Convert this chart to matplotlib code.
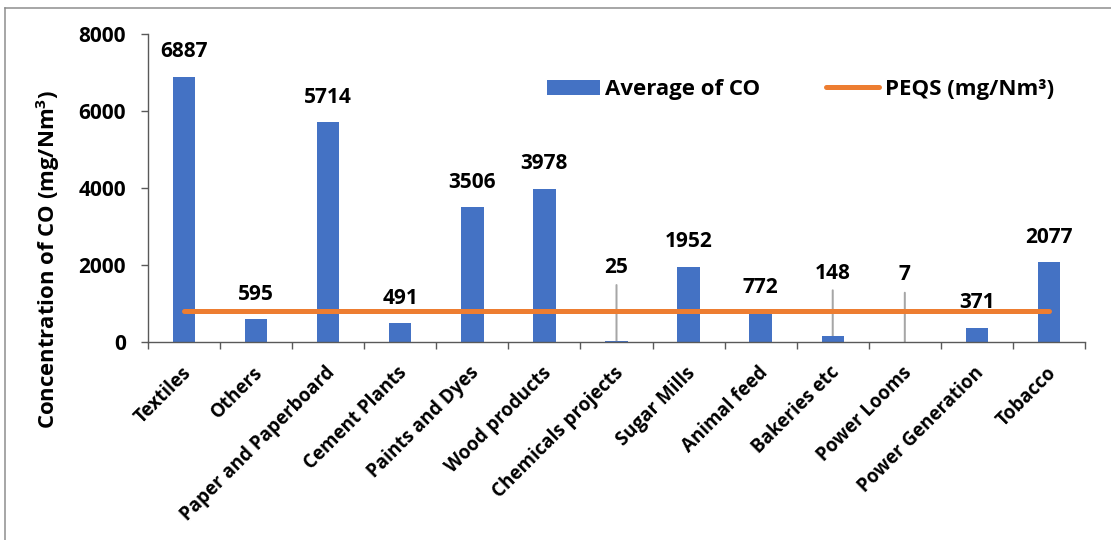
import matplotlib
matplotlib.use("Agg")
import matplotlib.pyplot as plt
from matplotlib.lines import Line2D
from matplotlib.patches import Patch
from matplotlib.transforms import ScaledTranslation

plt.rcParams['font.family'] = ['Open Sans', 'DejaVu Sans']
plt.rcParams['font.weight'] = 'bold'
plt.rcParams['mathtext.fontset'] = 'custom'
plt.rcParams['mathtext.bf'] = 'Open Sans:bold'
plt.rcParams['mathtext.rm'] = 'Open Sans:bold'

# Data
categories = ["Textiles", "Others", "Paper and Paperboard", "Cement Plants",
              "Paints and Dyes", "Wood products", "Chemicals projects",
              "Sugar Mills", "Animal feed", "Bakeries etc", "Power Looms",
              "Power Generation", "Tobacco"]
avg_co = [6887, 595, 5714, 491, 3506, 3978, 25, 1952, 772, 148, 7, 371, 2077]
peqs = [800] * len(categories)
y_ticks = [0, 2000, 4000, 6000, 8000]

BAR_COLOR = "#4472C4"
LINE_COLOR = "#ED7D31"
LEADER_COLOR = "#A6A6A6"
AXIS_COLOR = "#595959"

DPI = 100
PX = 72.0 / DPI  # points per pixel

fig = plt.figure(figsize=(11.11, 5.40), dpi=DPI)
ax = fig.add_axes([148 / 1111, 1 - 342 / 540, (1085 - 148) / 1111, (342 - 34) / 540])

x = list(range(len(categories)))
ax.bar(x, avg_co, width=0.31, color=BAR_COLOR, zorder=2)
ax.plot(x, peqs, color=LINE_COLOR, lw=5 * PX, solid_capstyle='round', zorder=3)

ax.set_xlim(-0.5, len(categories) - 0.5)
ax.set_ylim(0, 8000)
ax.set_yticks(y_ticks)
ax.set_yticklabels([str(v) for v in y_ticks], fontsize=15, fontweight='bold')
ax.tick_params(axis='y', length=5, width=1, color=AXIS_COLOR, pad=11, direction='out')

# Category labels at bar centres, boundary ticks between categories
ax.set_xticks(x)
ax.set_xticklabels(categories, fontsize=13.5, fontweight='bold')
ax.set_xticks([i - 0.5 for i in range(len(categories) + 1)], minor=True)
ax.tick_params(axis='x', which='major', length=0, pad=15)
ax.tick_params(axis='x', which='minor', length=5, width=1, color=AXIS_COLOR, direction='out')
offset = ScaledTranslation(-3 / DPI, 0, fig.dpi_scale_trans)
for lbl in ax.get_xticklabels():
    lbl.set_rotation(45)
    lbl.set_ha('right')
    lbl.set_va('top')
    lbl.set_rotation_mode('anchor')
    lbl.set_transform(lbl.get_transform() + offset)

for side in ('top', 'right'):
    ax.spines[side].set_visible(False)
for side in ('left', 'bottom'):
    ax.spines[side].set_color(AXIS_COLOR)
    ax.spines[side].set_linewidth(1)

# Value labels; small bars get a raised label with a leader line
leaders = {6: (74, 56), 9: (63, 46), 10: (67, 49)}  # (label offset px, leader length px)
for i, v in enumerate(avg_co):
    lab_off = leaders[i][0] if i in leaders else 25
    ax.annotate(str(v), (i, v), xytext=(0, lab_off * PX), textcoords='offset points',
                ha='center', va='center', fontsize=15, fontweight='bold', zorder=5)
    if i in leaders:
        ax.annotate("", (i, v), xytext=(0, leaders[i][1] * PX), textcoords='offset points',
                    arrowprops=dict(arrowstyle='-', color=LEADER_COLOR, lw=2 * PX,
                                    shrinkA=0, shrinkB=0), zorder=1.5)

handles = [Patch(facecolor=BAR_COLOR, edgecolor='none'),
           Line2D([0], [0], color=LINE_COLOR, lw=5 * PX, solid_capstyle='round')]
ax.legend(handles, ["Average of CO", "PEQS (mg/Nm\u00b3)"],
          loc='center left', bbox_to_anchor=(547 / 1111, 1 - 89.5 / 540),
          bbox_transform=fig.transFigure, ncol=2, frameon=False,
          borderpad=0, borderaxespad=0, handlelength=2.37, handleheight=0.65,
          handletextpad=0.26, columnspacing=2.95, prop={'weight': 'bold', 'size': 16})

fig.text(48 / 1111, 1 - 259 / 540, "Concentration of CO (mg/Nm$^\\mathbf{3}$)",
         rotation=90, ha='center', va='center', fontsize=15.9, fontweight='bold')

# Outer frame lines along top and left edges
fig.add_artist(Line2D([5 / 1111, 1], [1 - 8 / 540, 1 - 8 / 540], transform=fig.transFigure,
                      color='#8C8C8C', lw=1.5 * PX))
fig.add_artist(Line2D([5 / 1111, 5 / 1111], [0, 1 - 8 / 540], transform=fig.transFigure,
                      color='#8C8C8C', lw=1.5 * PX))

fig.savefig("out.png", dpi=DPI)
